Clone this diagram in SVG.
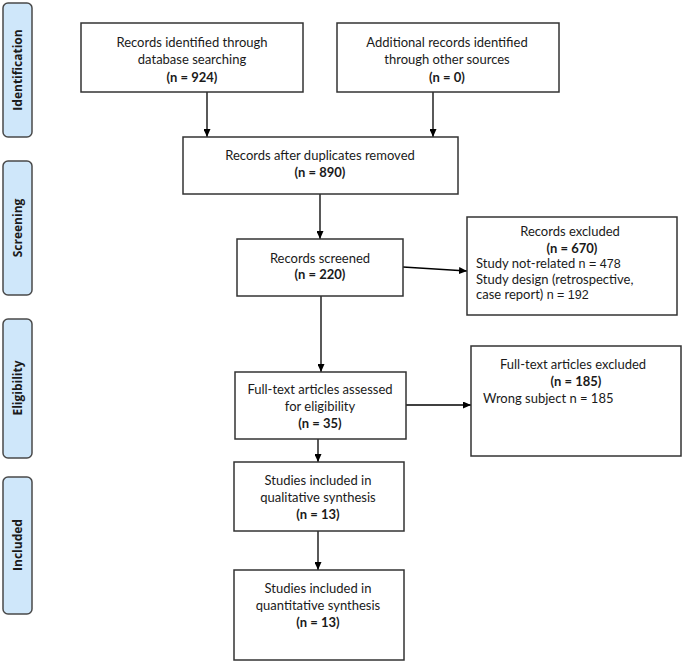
<svg xmlns="http://www.w3.org/2000/svg" width="685" height="664" viewBox="0 0 685 664">
<style>
  .bg { fill: #ffffff; }
  .phase rect { fill: #cfe7fa; stroke: #4a4a4a; stroke-width: 1.5; }
  .phase text { font-family: "Open Sans", "DejaVu Sans", sans-serif; font-weight: bold; font-size: 12px; fill: #1a1a1a; text-anchor: middle; dominant-baseline: central; }
  .node rect { fill: #ffffff; stroke: #333333; stroke-width: 1.5; }
  .node text { font-family: Lato, "Liberation Sans", sans-serif; font-size: 13px; fill: #1a1a1a; }
  .node tspan.a { font-family: "Liberation Sans", Arial, sans-serif; font-size: 12.5px; }
  .c { text-anchor: middle; }
  .b { font-weight: bold; }
  .edges line { stroke: #000; stroke-width: 1.3; marker-end: url(#ah); }
</style>
<defs>
  <marker id="ah" markerWidth="8" markerHeight="7" refX="8" refY="3.5" orient="auto" markerUnits="userSpaceOnUse">
    <path d="M0,0 L8,3.5 L0,7 z" fill="#000"/>
  </marker>
</defs>
<rect class="bg" x="0" y="0" width="685" height="664"/>

<g id="phase-identification" class="phase">
  <rect x="3" y="3" width="29" height="134" rx="5"/>
  <text transform="translate(17.5,70) rotate(-90)">Identification</text>
</g>
<g id="phase-screening" class="phase">
  <rect x="3" y="161" width="29" height="134" rx="5"/>
  <text transform="translate(17.5,228) rotate(-90)">Screening</text>
</g>
<g id="phase-eligibility" class="phase">
  <rect x="3" y="319" width="29" height="139" rx="5"/>
  <text transform="translate(17.5,388) rotate(-90)">Eligibility</text>
</g>
<g id="phase-included" class="phase">
  <rect x="3" y="477" width="29" height="137" rx="5"/>
  <text transform="translate(17.5,545) rotate(-90)">Included</text>
</g>

<g id="edges" class="edges">
  <line x1="207" y1="92" x2="207" y2="137"/>
  <line x1="433" y1="92" x2="433" y2="137"/>
  <line x1="320" y1="194" x2="320" y2="239"/>
  <line x1="403" y1="267" x2="467" y2="271"/>
  <line x1="321" y1="296" x2="321" y2="372"/>
  <line x1="406" y1="405" x2="471" y2="405"/>
  <line x1="318" y1="439" x2="318" y2="462"/>
  <line x1="318" y1="531" x2="318" y2="570"/>
</g>

<g id="node-db" class="node">
  <rect x="81" y="23" width="222" height="69"/>
  <text class="c" x="192" y="47">Records identified through</text>
  <text class="c" x="192" y="64">database searching</text>
  <text class="c b" x="192" y="82">(n = 924)</text>
</g>
<g id="node-other" class="node">
  <rect x="337" y="23" width="222" height="69"/>
  <text class="c" x="447" y="47">Additional records identified</text>
  <text class="c" x="447" y="64">through other sources</text>
  <text class="c b" x="447" y="82">(n = 0)</text>
</g>
<g id="node-dedup" class="node">
  <rect x="183" y="137" width="275" height="57"/>
  <text class="c" x="320" y="160">Records after duplicates removed</text>
  <text class="c b" x="320" y="177">(n = 890)</text>
</g>
<g id="node-screened" class="node">
  <rect x="237" y="239" width="166" height="57"/>
  <text class="c" x="320" y="263">Records screened</text>
  <text class="c b" x="320" y="279">(n = 220)</text>
</g>
<g id="node-excluded" class="node">
  <rect x="467" y="217" width="210" height="98"/>
  <text class="c" x="570" y="236">Records excluded</text>
  <text class="c b" x="572" y="253">(n = 670)</text>
  <text x="476" y="268">Study not-related <tspan class="a">n = 478</tspan></text>
  <text x="476" y="284">Study design (retrospective,</text>
  <text x="476" y="299">case report) <tspan class="a">n = 192</tspan></text>
</g>
<g id="node-fulltext" class="node">
  <rect x="235" y="372" width="171" height="67"/>
  <text class="c" x="320" y="394">Full-text articles assessed</text>
  <text class="c" x="320" y="411">for eligibility</text>
  <text class="c b" x="320" y="428">(n = 35)</text>
</g>
<g id="node-ft-excluded" class="node">
  <rect x="471" y="346" width="210" height="110"/>
  <text class="c" x="573" y="369">Full-text articles excluded</text>
  <text class="c b" x="576" y="386">(n = 185)</text>
  <text x="483" y="403">Wrong subject n = 185</text>
</g>
<g id="node-qualitative" class="node">
  <rect x="234" y="462" width="170" height="69"/>
  <text class="c" x="318" y="485">Studies included in</text>
  <text class="c" x="318" y="502">qualitative synthesis</text>
  <text class="c b" x="318" y="519">(n = 13)</text>
</g>
<g id="node-quantitative" class="node">
  <rect x="234" y="570" width="170" height="90"/>
  <text class="c" x="318" y="593">Studies included in</text>
  <text class="c" x="318" y="610">quantitative synthesis</text>
  <text class="c b" x="318" y="627">(n = 13)</text>
</g>
</svg>
